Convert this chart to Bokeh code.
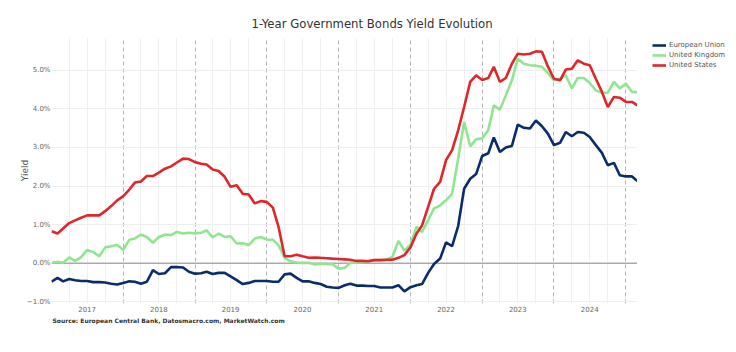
import pandas as pd
from bokeh.plotting import figure
from bokeh.layouts import row
from bokeh.models import (Range1d, FixedTicker, Grid, Span, Legend, LegendItem, Title,
                          CustomJSTickFormatter)
from bokeh.embed import file_html
from bokeh.resources import INLINE

# ---- data (monthly, Jan 2017 .. Mar 2025), 1-year yields in % ----
months = pd.date_range("2017-01-01", "2025-03-01", freq="MS")

eu = [-0.48, -0.38, -0.47, -0.41, -0.44, -0.46, -0.46, -0.49, -0.49, -0.50, -0.53, -0.55,
      -0.51, -0.47, -0.48, -0.53, -0.48, -0.18, -0.28, -0.26, -0.10, -0.10, -0.11, -0.22,
      -0.27, -0.26, -0.22, -0.28, -0.25, -0.25, -0.34, -0.44, -0.54, -0.51, -0.46, -0.46,
      -0.46, -0.48, -0.48, -0.29, -0.27, -0.38, -0.47, -0.47, -0.51, -0.54, -0.61, -0.63,
      -0.64, -0.57, -0.53, -0.58, -0.58, -0.59, -0.59, -0.63, -0.63, -0.63, -0.57, -0.73,
      -0.62, -0.57, -0.54, -0.25, -0.02, 0.12, 0.54, 0.44, 0.97, 1.93, 2.19, 2.31,
      2.78, 2.85, 3.26, 2.88, 3.00, 3.04, 3.59, 3.51, 3.49, 3.70, 3.55, 3.36,
      3.06, 3.12, 3.40, 3.29, 3.40, 3.38, 3.27, 3.06, 2.86, 2.54, 2.60, 2.28,
      2.25, 2.25, 2.13]

uk = [0.01, 0.04, 0.01, 0.15, 0.06, 0.16, 0.34, 0.29, 0.18, 0.41, 0.44, 0.47,
      0.35, 0.61, 0.64, 0.74, 0.68, 0.53, 0.68, 0.74, 0.73, 0.81, 0.77, 0.79,
      0.77, 0.79, 0.85, 0.67, 0.77, 0.68, 0.70, 0.51, 0.52, 0.47, 0.64, 0.68,
      0.61, 0.61, 0.47, 0.14, 0.05, 0.02, 0.01, 0.01, -0.03, -0.01, -0.02, -0.03,
      -0.14, -0.12, 0.01, 0.02, 0.03, 0.06, 0.08, 0.08, 0.09, 0.16, 0.58, 0.33,
      0.48, 0.95, 0.81, 1.11, 1.42, 1.50, 1.63, 1.80, 2.72, 3.66, 3.03, 3.21,
      3.24, 3.45, 4.09, 3.98, 4.35, 4.74, 5.30, 5.17, 5.13, 5.12, 5.09, 4.93,
      4.74, 4.78, 4.87, 4.53, 4.80, 4.80, 4.67, 4.48, 4.42, 4.42, 4.70, 4.53,
      4.66, 4.44, 4.43]

us = [0.83, 0.77, 0.90, 1.04, 1.11, 1.18, 1.24, 1.24, 1.24, 1.35, 1.48, 1.63,
      1.74, 1.91, 2.09, 2.12, 2.26, 2.26, 2.35, 2.45, 2.51, 2.61, 2.71, 2.70,
      2.62, 2.58, 2.56, 2.43, 2.39, 2.24, 1.98, 2.02, 1.80, 1.78, 1.55, 1.61,
      1.59, 1.44, 0.94, 0.18, 0.18, 0.22, 0.18, 0.14, 0.15, 0.14, 0.13, 0.12,
      0.11, 0.10, 0.09, 0.06, 0.06, 0.05, 0.08, 0.08, 0.09, 0.09, 0.14, 0.21,
      0.41, 0.77, 0.98, 1.46, 1.93, 2.11, 2.67, 2.93, 3.45, 4.05, 4.70, 4.87,
      4.75, 4.80, 5.09, 4.70, 4.80, 5.17, 5.43, 5.41, 5.43, 5.49, 5.48, 5.10,
      4.78, 4.74, 5.02, 5.04, 5.26, 5.17, 5.13, 4.78, 4.44, 4.05, 4.31, 4.29,
      4.18, 4.18, 4.09]

series_names = ["European Union", "United Kingdom", "United States"]
series_colors = ["#0b2c6b", "#90e68f", "#e0262b"]
label_years = list(range(2017, 2025))
y_ticks = [-1, 0, 1, 2, 3, 4, 5]


def ms(y, m=1, d=1):
    return pd.Timestamp(year=y, month=m, day=d).timestamp() * 1000.0


p = figure(width=637, height=352, x_axis_type="datetime", output_backend="svg",
           toolbar_location=None,
           x_range=Range1d(ms(2017, 1), ms(2025, 3)), y_range=Range1d(-1.044, 5.85),
           min_border_left=51, min_border_right=0, min_border_top=37, min_border_bottom=49)
p.outline_line_color = None
p.background_fill_color = "white"
p.border_fill_color = "white"

# grids
p.xgrid.ticker = FixedTicker(ticks=[ms(y) for y in range(2017, 2026)])
p.xgrid.grid_line_color = "#b4b4b4"
p.xgrid.grid_line_dash = "4 3"
p.xgrid.grid_line_width = 1
p.ygrid.ticker = FixedTicker(ticks=y_ticks)
p.ygrid.grid_line_color = "#eeeeee"
quarters = [ms(y, m) for y in range(2017, 2025) for m in (4, 7, 10)]
qgrid = Grid(dimension=0, ticker=FixedTicker(ticks=quarters), grid_line_color="#f0f0f0")
p.add_layout(qgrid)

p.add_layout(Span(location=0, dimension="width", line_color="#ababab", line_width=1.6,
                  level="underlay"))

# axes
p.xaxis.ticker = FixedTicker(ticks=[ms(y, 7) for y in label_years])
p.xaxis.formatter = CustomJSTickFormatter(code="return String(new Date(tick).getUTCFullYear());")
p.yaxis.ticker = FixedTicker(ticks=y_ticks)
p.yaxis.formatter = CustomJSTickFormatter(
    code="return (tick < 0 ? '\u2212' : '') + Math.abs(tick).toFixed(1) + '%';")
for ax in (p.xaxis[0], p.yaxis[0]):
    ax.axis_line_color = None
    ax.major_tick_line_color = None
    ax.minor_tick_line_color = None
    ax.major_tick_out = 0
    ax.major_tick_in = 0
    ax.minor_tick_out = 0
    ax.minor_tick_in = 0
    ax.major_label_text_font = "DejaVu Sans"
    ax.major_label_text_font_size = "7px"
    ax.major_label_text_color = "#666666"
p.xaxis.major_label_standoff = 2
p.yaxis.major_label_standoff = 1
p.yaxis.axis_label = "Yield"
p.yaxis.axis_label_text_font = "DejaVu Sans"
p.yaxis.axis_label_text_font_size = "9px"
p.yaxis.axis_label_text_font_style = "normal"
p.yaxis.axis_label_text_color = "#555555"
p.yaxis.axis_label_standoff = -6

# lines
for vals, col in zip([eu, uk, us], series_colors):
    p.line(months, vals, line_color=col, line_width=2.6)

# title and source
p.title.text = "1-Year Government Bonds Yield Evolution"
p.title.align = "left"
p.title.offset = 200
p.title.standoff = 13
p.title.text_font = "DejaVu Sans"
p.title.text_font_size = "11.7px"
p.title.text_font_style = "normal"
p.title.text_color = "#333333"

src = Title(text="Source: European Central Bank, Datosmacro.com, MarketWatch.com",
            align="left", offset=1, standoff=0, text_font="DejaVu Sans",
            text_font_size="6px", text_font_style="bold", text_color="#333333")
p.add_layout(src, "below")

# ---- legend panel (separate narrow figure to the right of the plot) ----
pl = figure(width=99, height=352, output_backend="svg", toolbar_location=None,
            x_range=Range1d(0, 99), y_range=Range1d(0, 352),
            x_axis_location=None, y_axis_location=None,
            min_border=0, min_border_left=0, min_border_right=0,
            min_border_top=0, min_border_bottom=0)
pl.outline_line_color = None
pl.grid.visible = False
pl.background_fill_color = "white"
pl.border_fill_color = "white"
# single-point lines draw nothing themselves; they only supply the legend glyph style
leg_renderers = [pl.line(x=[-50], y=[-50], line_color=c, line_width=2.6) for c in series_colors]
legend = Legend(items=[LegendItem(label=n, renderers=[r]) for n, r in zip(series_names, leg_renderers)],
                location=(15, 233), padding=0, margin=0, spacing=0,
                glyph_width=14, glyph_height=10, label_height=10, label_standoff=3,
                label_text_font="DejaVu Sans", label_text_font_size="7px",
                label_text_color="#555555", border_line_color=None,
                background_fill_alpha=0)
pl.add_layout(legend)

layout = row(p, pl)
open("out.html", "w").write(file_html(layout, INLINE))
